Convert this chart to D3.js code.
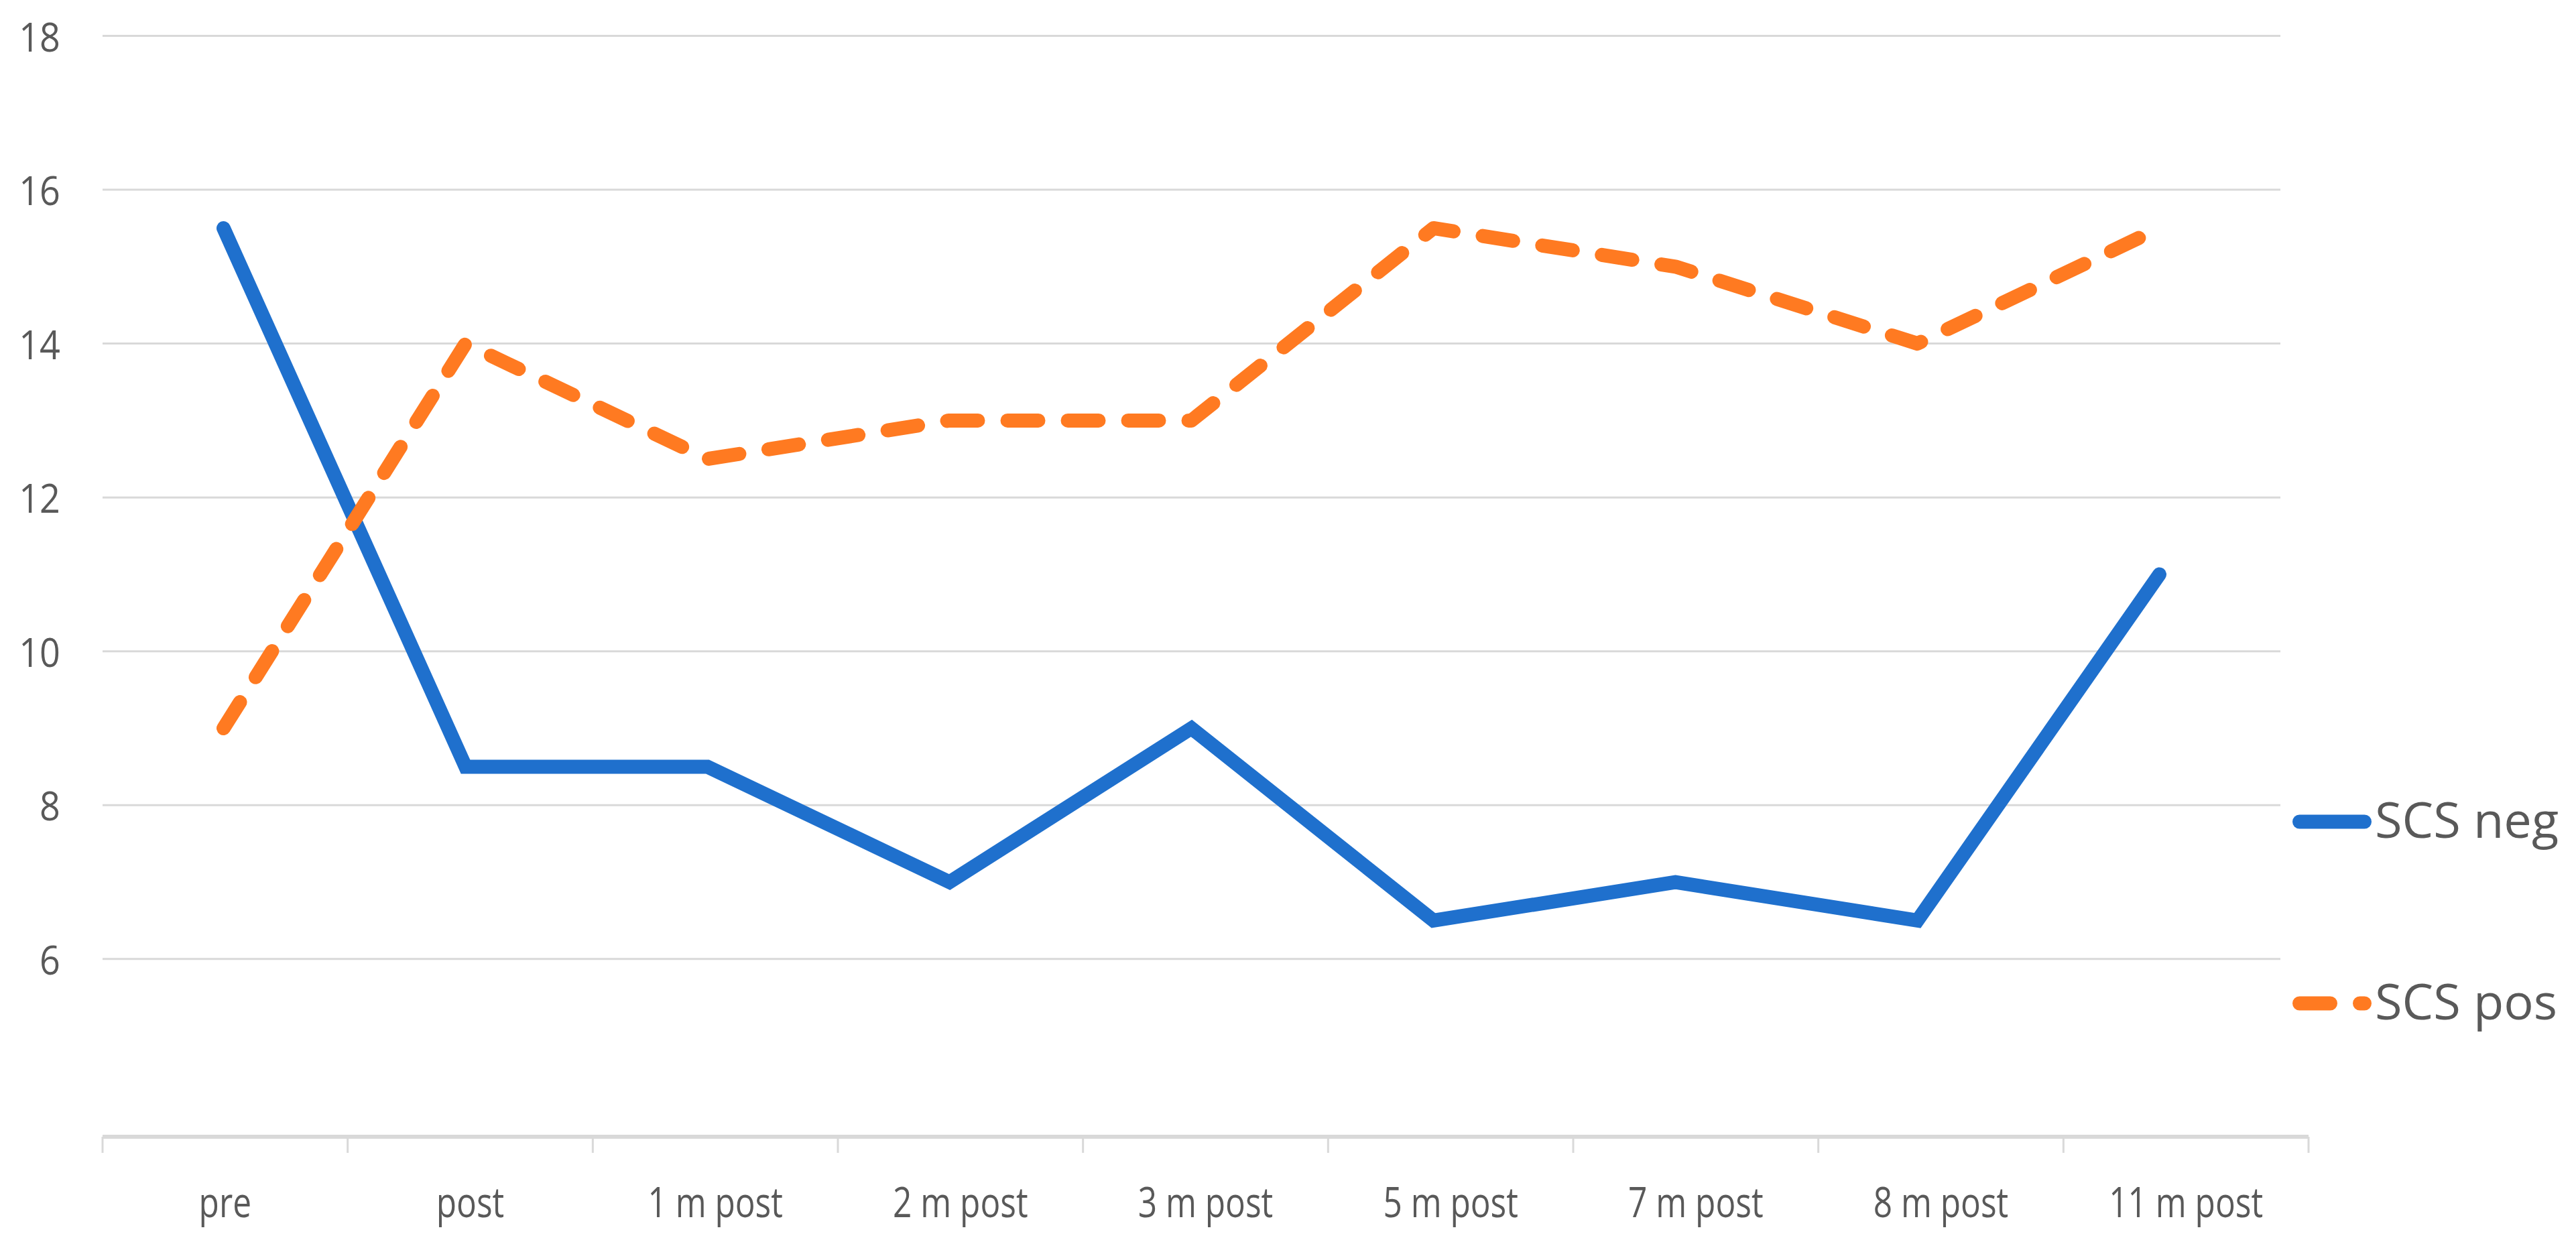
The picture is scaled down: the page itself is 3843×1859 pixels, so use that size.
<!DOCTYPE html>
<html>
<head>
<meta charset="utf-8">
<script src="https://cdn.jsdelivr.net/npm/d3@7"></script>
<style>
  html, body { margin: 0; padding: 0; background: #ffffff; }
  svg { display: block; }
</style>
</head>
<body>
<script>
// ---- data ----
const categories = ["pre", "post", "1 m post", "2 m post", "3 m post", "5 m post", "7 m post", "8 m post", "11 m post"];
const scsNeg = [15.5, 8.5, 8.5, 7, 9, 6.5, 7, 6.5, 11];
const scsPos = [9, 14, 12.5, 13, 13, 15.5, 15, 14, 15.5];
const seriesNames = ["SCS neg", "SCS pos"];
const yTicks = [6, 8, 10, 12, 14, 16, 18];

// ---- layout ----
const W = 3843, H = 1859;
const plotLeft = 153, plotRight = 3402;
const axisRight = 3444;
const yTopPx = 53.5, yBottomPx = 1696;
const yMin = 3.69, yMax = 18;
const textColor = "#595959";
const gridColor = "#d9d9d9";
const colors = ["#1f70cd", "#ff7a21"];
const lineW = 21;

const svg = d3.select("body").append("svg")
  .attr("width", W).attr("height", H)
  .style("font-family", "'Open Sans', sans-serif");

const y = d3.scaleLinear().domain([yMin, yMax]).range([yBottomPx, yTopPx]);
const xAxisScale = d3.scaleBand().domain(categories).range([plotLeft, axisRight]);
const band = (plotRight - plotLeft) / categories.length;
const x = d3.scalePoint().domain(categories).range([plotLeft + band / 2, plotRight - band / 2]);

// gridlines
svg.append("g").selectAll("line").data(yTicks).join("line")
  .attr("x1", plotLeft).attr("x2", plotRight)
  .attr("y1", d => y(d)).attr("y2", d => y(d))
  .attr("stroke", gridColor).attr("stroke-width", 3);

// y labels
svg.append("g").selectAll("text").data(yTicks).join("text")
  .attr("transform", d => `translate(90,${y(d)}) scale(0.9,1)`)
  .attr("text-anchor", "end")
  .attr("dominant-baseline", "central")
  .attr("fill", textColor)
  .attr("font-size", 60)
  .text(d => d);

// x axis
const xAxis = d3.axisBottom(xAxisScale).tickSize(0).tickFormat("");
const gx = svg.append("g").attr("transform", `translate(0,${yBottomPx})`).call(xAxis);
gx.select(".domain").attr("stroke", gridColor).attr("stroke-width", 6)
  .attr("d", `M${plotLeft},0H${axisRight}`);
gx.selectAll(".tick").remove();

// tick marks at band boundaries
const boundaries = categories.map(c => xAxisScale(c)).concat([xAxisScale(categories[categories.length - 1]) + xAxisScale.bandwidth()]);
svg.append("g").selectAll("line").data(boundaries).join("line")
  .attr("x1", d => d).attr("x2", d => d)
  .attr("y1", yBottomPx).attr("y2", yBottomPx + 24)
  .attr("stroke", gridColor).attr("stroke-width", 3);

// x labels
svg.append("g").selectAll("text").data(categories).join("text")
  .attr("transform", d => `translate(${xAxisScale(d) + xAxisScale.bandwidth() / 2},1816) scale(0.8,1)`)
  .attr("text-anchor", "middle")
  .attr("fill", textColor)
  .attr("font-size", 62)
  .text(d => d);

// lines
const line = d3.line().x((d, i) => x(categories[i])).y(d => y(d));
svg.append("path").datum(scsNeg)
  .attr("d", line)
  .attr("fill", "none").attr("stroke", colors[0]).attr("stroke-width", lineW)
  .attr("stroke-linecap", "round").attr("stroke-linejoin", "miter");
svg.append("path").datum(scsPos)
  .attr("d", line)
  .attr("fill", "none").attr("stroke", colors[1]).attr("stroke-width", lineW)
  .attr("stroke-linecap", "round").attr("stroke-linejoin", "round")
  .attr("stroke-dasharray", "46,44");

// legend
const legendY = [1226, 1497];
const lg = svg.append("g").selectAll("g").data(seriesNames).join("g");
lg.append("line")
  .attr("x1", 3430.5).attr("x2", 3527.5)
  .attr("y1", (d, i) => legendY[i]).attr("y2", (d, i) => legendY[i])
  .attr("stroke", (d, i) => colors[i]).attr("stroke-width", lineW)
  .attr("stroke-linecap", "round")
  .attr("stroke-dasharray", (d, i) => i === 1 ? "46,44" : null);
lg.append("text")
  .attr("x", 3543)
  .attr("y", (d, i) => legendY[i] + 24)
  .attr("fill", textColor)
  .attr("font-size", 74)
  .text(d => d);
</script>
</body>
</html>
